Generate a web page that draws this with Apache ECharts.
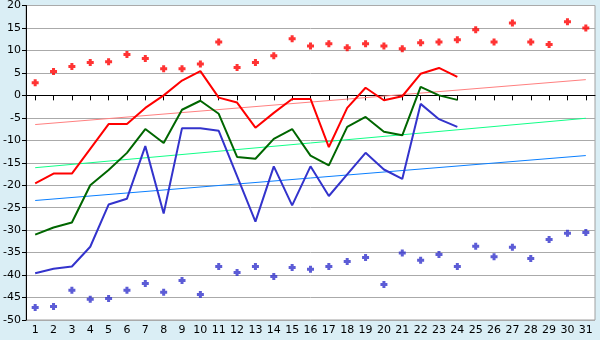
<!DOCTYPE html>
<html>
<head>
<meta charset="utf-8">
<script src="https://cdn.jsdelivr.net/npm/echarts@6/dist/echarts.min.js"></script>
<style>
  html, body { margin: 0; padding: 0; background: #daeef5; }
  #chart { width: 600px; height: 340px; }
</style>
</head>
<body>
<div id="chart"></div>
<script>
// Days of the month
const days = ['1','2','3','4','5','6','7','8','9','10','11','12','13','14','15','16','17','18','19','20','21','22','23','24','25','26','27','28','29','30','31'];

// Daily extremes (markers)
const highMarks = [2.8, 5.3, 6.4, 7.3, 7.5, 9.1, 8.2, 5.9, 5.9, 7.0, 11.9, 6.2, 7.3, 8.8, 12.6, 11.0, 11.5, 10.6, 11.5, 11.0, 10.4, 11.7, 11.9, 12.4, 14.6, 11.9, 16.1, 11.9, 11.3, 16.4, 15.0];
const lowMarks = [-47.2, -47.0, -43.4, -45.4, -45.2, -43.4, -41.9, -43.8, -41.2, -44.3, -38.1, -39.4, -38.1, -40.3, -38.3, -38.7, -38.1, -37.0, -36.1, -42.1, -35.1, -36.7, -35.4, -38.1, -33.6, -35.9, -33.8, -36.3, -32.1, -30.7, -30.5];

// Observed series (first 24 days)
const redSeries = [-19.6, -17.4, -17.4, -11.9, -6.4, -6.4, -2.8, 0.0, 3.3, 5.4, -0.5, -1.6, -7.2, -3.9, -0.8, -0.8, -11.5, -2.8, 1.7, -1.1, -0.2, 4.8, 6.1, 4.1];
const greenSeries = [-31.0, -29.4, -28.3, -20.0, -16.6, -12.8, -7.5, -10.6, -3.2, -1.2, -4.1, -13.7, -14.1, -9.7, -7.5, -13.4, -15.6, -7.0, -4.8, -8.1, -8.9, 1.9, 0.0, -1.0];
const blueSeries = [-39.6, -38.6, -38.1, -33.7, -24.3, -23.0, -11.3, -26.3, -7.3, -7.3, -7.9, -18.0, -28.1, -15.8, -24.5, -15.8, -22.4, -17.6, -12.8, -16.5, -18.6, -1.9, -5.3, -7.0];

// Trend lines: value at first day and at last day
const redTrend = [-6.5, 3.5];
const greenTrend = [-16.1, -5.1];
const blueTrend = [-23.4, -13.4];

// Y axis range
const yMin = -50, yMax = 20, yStep = 5;

// Chunky plus-shaped marker
const plusMark = 'path://M2,0H5V2H7V5H5V7H2V5H0V2H2Z';

function trendData(t) {
  return [[0, t[0]], [days.length - 1, t[1]]];
}

const chart = echarts.init(document.getElementById('chart'), null, { renderer: 'canvas' });

chart.setOption({
  backgroundColor: '#daeef5',
  animation: false,
  textStyle: { fontFamily: 'DejaVu Sans' },
  grid: {
    left: 26, right: 5, top: 5, bottom: 20,
    show: true, backgroundColor: '#ffffff', borderColor: '#a0a0a0', borderWidth: 1
  },
  xAxis: {
    type: 'category',
    data: days,
    boundaryGap: true,
    axisLine: { show: true, lineStyle: { color: '#000000', width: 1 } },
    axisTick: { show: true, alignWithLabel: true, length: 5, lineStyle: { color: '#000000' } },
    axisLabel: { color: '#000000', fontSize: 11, margin: 5, interval: 0 },
    splitLine: { show: false }
  },
  yAxis: {
    type: 'value',
    min: yMin, max: yMax, interval: yStep,
    axisLine: { show: true, lineStyle: { color: '#000000', width: 1 } },
    axisTick: { show: true, length: 4, lineStyle: { color: '#000000' } },
    axisLabel: { color: '#000000', fontSize: 11, margin: 5 },
    splitLine: { show: true, lineStyle: { color: '#aaaaaa', width: 1 } }
  },
  series: [
    { type: 'line', data: trendData(redTrend), symbol: 'none', lineStyle: { color: '#ff8080', width: 1 }, z: 1 },
    { type: 'line', data: trendData(greenTrend), symbol: 'none', lineStyle: { color: '#11ff88', width: 1 }, z: 1 },
    { type: 'line', data: trendData(blueTrend), symbol: 'none', lineStyle: { color: '#0a7fff', width: 1 }, z: 1 },
    { type: 'line', data: blueSeries, symbol: 'none', lineStyle: { color: '#3333cc', width: 2 }, z: 2 },
    { type: 'line', data: greenSeries, symbol: 'none', lineStyle: { color: '#006600', width: 2 }, z: 3 },
    { type: 'line', data: redSeries, symbol: 'none', lineStyle: { color: '#ff0000', width: 2 }, z: 4 },
    { type: 'scatter', data: highMarks, symbol: plusMark, symbolSize: 7, itemStyle: { color: '#ff0000' }, z: 5 },
    { type: 'scatter', data: lowMarks, symbol: plusMark, symbolSize: 7, itemStyle: { color: '#3333cc' }, z: 5 }
  ]
});
</script>
</body>
</html>
